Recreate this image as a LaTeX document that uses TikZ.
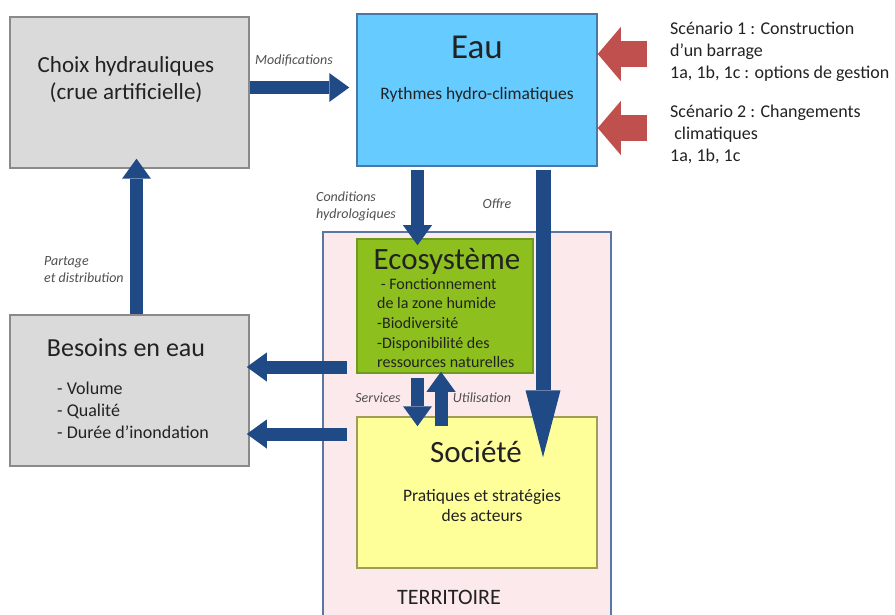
\documentclass[tikz,border=0pt]{standalone}
\usepackage{fontspec}
\setmainfont{Carlito}
\usetikzlibrary{arrows.meta}
\definecolor{boxgray}{HTML}{DADADA}
\definecolor{graybd}{HTML}{8A8A8A}
\definecolor{eaufill}{HTML}{66CCFF}
\definecolor{eaubd}{HTML}{4A76A8}
\definecolor{ecofill}{HTML}{8DBF1E}
\definecolor{ecobd}{HTML}{6F9A20}
\definecolor{socfill}{HTML}{FFFF99}
\definecolor{socbd}{HTML}{A09C5A}
\definecolor{terrfill}{HTML}{FCE9EC}
\definecolor{terrbd}{HTML}{5A76A6}
\definecolor{arrowblue}{HTML}{1F4A85}
\definecolor{arrowred}{HTML}{C0504D}
\definecolor{lblc}{HTML}{505050}
\definecolor{txt}{HTML}{222222}
\begin{document}
\begin{tikzpicture}[x=1pt,y=-1pt,
  box/.style={rectangle, inner sep=0pt, line width=1.5pt},
  barrow/.style={draw=arrowblue, line width=13pt, -{Triangle[width=29pt,length=20pt,line width=0pt]}},
  rarrow/.style={draw=arrowred, line width=26pt, -{Triangle[width=54pt,length=23pt,line width=0pt]}},
  lbl/.style={font=\fontsize{14}{17}\selectfont\itshape, text=lblc, inner sep=0pt, align=left},
  ttl/.style={font=\fontsize{31}{36}\selectfont, text=txt, inner sep=0pt},
  body/.style={text=txt, inner sep=0pt}
]
\useasboundingbox (0,0) rectangle (895,615);
\clip (0,0) rectangle (895,615);
\fill[white] (0,0) rectangle (895,615);

% boxes
\node[box, fill=terrfill, draw=terrbd, minimum width=288pt, minimum height=388pt] (terr) at (467,426) {};
\node[box, fill=boxgray, draw=graybd, minimum width=239pt, minimum height=151pt] (choix) at (129.5,92.5) {};
\node[box, fill=eaufill, draw=eaubd, minimum width=240pt, minimum height=152pt] (eau) at (477,90) {};
\node[box, fill=boxgray, draw=graybd, minimum width=239pt, minimum height=151pt] (besoins) at (129.5,390.5) {};
\node[box, fill=ecofill, draw=ecobd, minimum width=176pt, minimum height=134pt] (eco) at (445,306) {};
\node[box, fill=socfill, draw=socbd, minimum width=240pt, minimum height=151pt] (soc) at (477,492.5) {};

% blue arrows
\draw[barrow] ([yshift=5pt]choix.east) -- ([xshift=-7pt,yshift=2.5pt]eau.west);
\draw[barrow] ([xshift=7pt]besoins.north) -- ([xshift=7pt,yshift=10pt]choix.south);
\draw[barrow] ([xshift=-59.5pt,yshift=-3pt]eau.south) -- ([xshift=-27.5pt,yshift=-7pt]eco.north);
\draw[draw=arrowblue, line width=15pt, -{Triangle[width=35pt,length=67pt,line width=0pt]}]
  ([xshift=66pt,yshift=-3pt]eau.south) -- ([xshift=66pt,yshift=-41pt]soc.north);
\draw[barrow] ([xshift=-27.5pt,yshift=-4pt]eco.south) -- ([xshift=-59.5pt,yshift=-10pt]soc.north);
\draw[barrow] ([xshift=-36pt,yshift=-10pt]soc.north) -- ([xshift=-4pt,yshift=2pt]eco.south);
\draw[barrow] ([xshift=-9pt,yshift=-61pt]eco.west) -- ([xshift=-3pt,yshift=23.5pt]besoins.east);
\draw[barrow] ([xshift=-9pt,yshift=58.5pt]soc.west) -- ([xshift=-3pt,yshift=-43.5pt]besoins.east);

% red arrows
\coordinate (s1) at (647,54);
\coordinate (s2) at (647,128);
\draw[rarrow] (s1) -- (s1 -| eau.east);
\draw[rarrow] (s2) -- (s2 -| eau.east);

% texts
\node[body, font=\fontsize{23}{27}\selectfont, align=center] (choixt) at (126,80) {Choix hydrauliques\\(crue artificielle)};
\node[lbl] (modt) at (294,60) {Modifications};
\node[body, font=\fontsize{35}{40}\selectfont] (eaut) at (477,47) {Eau};
\node[body, font=\fontsize{17.5}{21}\selectfont] (rytht) at (477,95) {Rythmes hydro-climatiques};
\node[body, font=\fontsize{18}{22}\selectfont, align=left, anchor=west] (sc1) at (670,52) {Scénario 1 : Construction\\d’un barrage\\1a, 1b, 1c : options de gestion};
\node[body, font=\fontsize{18}{22}\selectfont, align=left, anchor=west] (sc2) at (670,134) {Scénario 2 : Changements\\\ climatiques\\1a, 1b, 1c};
\node[lbl, anchor=west] (condt) at (316,206) {Conditions\\hydrologiques};
\node[lbl] (offt) at (497,204) {Offre};
\node[lbl, anchor=west] (partt) at (44,270) {Partage\\et distribution};
\node[body, font=\fontsize{26}{30}\selectfont] (best) at (126,348) {Besoins en eau};
\node[body, font=\fontsize{18}{22}\selectfont, align=left, anchor=west] (besi) at (57,410) {- Volume\\- Qualité\\- Durée d’inondation};
\node[ttl] (ecot) at (447,261) {Ecosystème};
\node[body, font=\fontsize{16}{19.7}\selectfont, align=left, anchor=west] (ecoi) at (377,323) {\ - Fonctionnement\\de la zone humide\\-Biodiversité\\-Disponibilité des\\ressources naturelles};
\node[lbl] (servt) at (378,398) {Services};
\node[lbl] (utilt) at (482,398) {Utilisation};
\node[ttl] (soct) at (476,452) {Société};
\node[body, font=\fontsize{17.5}{20}\selectfont, align=center] (pratt) at (482,506) {Pratiques et stratégies\\des acteurs};
\node[body, font=\fontsize{22}{26}\selectfont] (terrt) at (449,597) {TERRITOIRE};
\end{tikzpicture}
\end{document}
